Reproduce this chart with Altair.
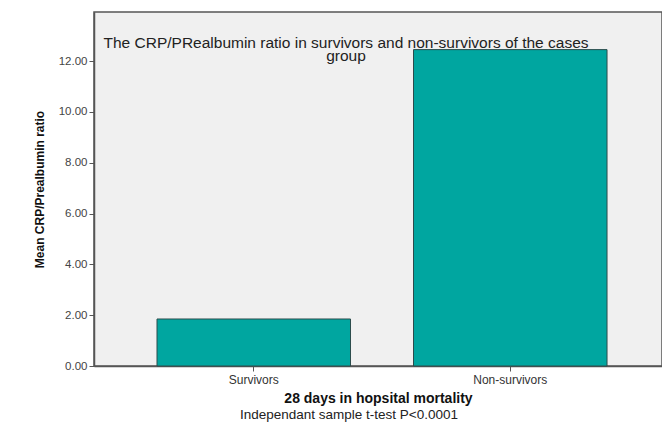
import altair as alt
import pandas as pd

categories = ["Survivors", "Non-survivors"]
means = [1.85, 12.45]
title_lines = ["The CRP/PRealbumin ratio in survivors and non-survivors of the cases", "group"]
y_ticks = [0, 2, 4, 6, 8, 10, 12]
footnote = "Independant sample t-test P<0.0001"

df = pd.DataFrame({"group": categories, "mean": means})

FONT = "Liberation Sans"

bars = alt.Chart(df).mark_bar(
    color="#00a6a0", stroke="#2c4c4c", strokeWidth=1
).encode(
    x=alt.X("group:N", sort=categories,
            scale=alt.Scale(paddingInner=0.2456, paddingOuter=0.23, align=0.534),
            axis=alt.Axis(title="28 days in hopsital mortality", labelAngle=0,
                          titleFontSize=14, titleFontWeight="bold", titleColor="#111",
                          titlePadding=6, labelFontSize=12, labelColor="#333",
                          labelPadding=3)),
    y=alt.Y("mean:Q", scale=alt.Scale(domain=[0, 13.93], nice=False),
            axis=alt.Axis(title="Mean CRP/Prealbumin ratio", values=y_ticks, format=".2f",
                          grid=False, titleFontSize=12, titleFontWeight="bold",
                          titleColor="#111", titlePadding=12, labelFontSize=11.5,
                          labelColor="#444", labelPadding=2)),
)

title_text = alt.Chart(pd.DataFrame({"t": [title_lines]})).mark_text(
    font=FONT, fontSize=15.5, color="#222", lineHeight=13, align="center", baseline="middle"
).encode(x=alt.value(252), y=alt.value(31), text="t:N")

foot = alt.Chart(pd.DataFrame({"t": [footnote]})).mark_text(
    font=FONT, fontSize=13.5, color="#222", align="center", baseline="middle"
).encode(x=alt.value(255), y=alt.value(403), text="t:N")

chart = alt.layer(bars, title_text, foot).properties(
    width=568, height=354,
    autosize=alt.AutoSizeParams(type="none"),
    padding={"left": 86, "top": 4, "right": 0, "bottom": 56},
    background="white",
).configure_view(
    fill="#f0f0f0", stroke="#555", strokeWidth=1.5
).configure_axis(
    labelFont=FONT, titleFont=FONT, domainColor="#555", tickColor="#555",
    tickSize=5, domainWidth=1.5,
)

chart.save("out.html", embed_options={"renderer": "svg", "actions": False})
